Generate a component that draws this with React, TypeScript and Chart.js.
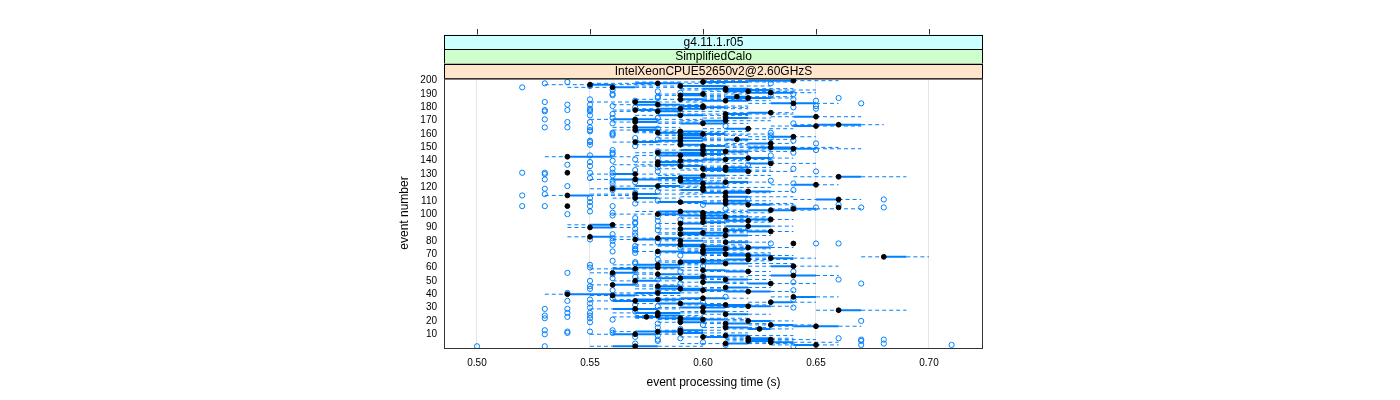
import React, { useEffect, useRef } from 'react';
import { Chart, registerables } from 'chart.js';

Chart.register(...registerables);

// ---------- data ----------
const xTickValues = [0.5, 0.55, 0.6, 0.65, 0.7];
const yTickValues = [10, 20, 30, 40, 50, 60, 70, 80, 90, 100, 110, 120, 130, 140, 150, 160, 170, 180, 190, 200];
const stripLabels = ['g4.11.1.r05', 'SimplifiedCalo', 'IntelXeonCPUE52650v2@2.60GHzS'];
const stripColors = ['#ccffff', '#ccffcc', '#ffe5cc'];

// event numbers 1..200 (category positions)
const eventNumbers = Array.from({ length: 200 }, (_, i) => i + 1);

const whiskerLow = [
  0.55, 0.63, 0.59, 0.62, 0.61, 0.61, 0.61, 0.59, 0.60, 0.55,
  0.58, 0.56, 0.58, 0.61, 0.60, 0.63, 0.62, 0.60, 0.58, 0.61,
  0.58, 0.57, 0.56, 0.57, 0.60, 0.56, 0.59, 0.65, 0.55, 0.58,
  0.60, 0.59, 0.57, 0.62, 0.55, 0.56, 0.58, 0.63, 0.55, 0.53,
  0.56, 0.60, 0.58, 0.57, 0.60, 0.57, 0.55, 0.61, 0.59, 0.56,
  0.60, 0.57, 0.58, 0.62, 0.57, 0.55, 0.60, 0.59, 0.55, 0.56,
  0.62, 0.56, 0.59, 0.58, 0.58, 0.60, 0.62, 0.67, 0.60, 0.60,
  0.58, 0.57, 0.59, 0.59, 0.61, 0.58, 0.57, 0.64, 0.60, 0.58,
  0.56, 0.57, 0.54, 0.59, 0.58, 0.58, 0.61, 0.60, 0.58, 0.54,
  0.60, 0.54, 0.58, 0.59, 0.60, 0.61, 0.59, 0.60, 0.58, 0.56,
  0.58, 0.57, 0.61, 0.63, 0.66, 0.54, 0.61, 0.59, 0.57, 0.60,
  0.64, 0.56, 0.59, 0.53, 0.55, 0.59, 0.60, 0.58, 0.55, 0.58,
  0.56, 0.63, 0.58, 0.59, 0.58, 0.55, 0.57, 0.64, 0.58, 0.55,
  0.54, 0.60, 0.59, 0.58, 0.60, 0.57, 0.56, 0.61, 0.57, 0.58,
  0.59, 0.60, 0.53, 0.57, 0.58, 0.57, 0.60, 0.58, 0.62, 0.61,
  0.59, 0.57, 0.61, 0.56, 0.57, 0.60, 0.58, 0.62, 0.58, 0.58,
  0.57, 0.57, 0.56, 0.60, 0.56, 0.63, 0.64, 0.58, 0.56, 0.59,
  0.55, 0.60, 0.63, 0.57, 0.59, 0.61, 0.56, 0.56, 0.57, 0.59,
  0.58, 0.56, 0.62, 0.55, 0.59, 0.57, 0.60, 0.60, 0.58, 0.58,
  0.61, 0.60, 0.59, 0.59, 0.54, 0.57, 0.53, 0.55, 0.57, 0.60,
];

const boxLow = [
  0.56, 0.64, 0.61, 0.63, 0.62, 0.62, 0.62, 0.60, 0.61, 0.56,
  0.59, 0.57, 0.59, 0.62, 0.61, 0.64, 0.63, 0.61, 0.59, 0.62,
  0.59, 0.58, 0.57, 0.58, 0.61, 0.57, 0.60, 0.66, 0.56, 0.59,
  0.61, 0.60, 0.58, 0.63, 0.56, 0.57, 0.59, 0.64, 0.56, 0.54,
  0.57, 0.61, 0.59, 0.58, 0.61, 0.58, 0.56, 0.62, 0.60, 0.57,
  0.61, 0.58, 0.59, 0.63, 0.58, 0.56, 0.61, 0.60, 0.56, 0.57,
  0.63, 0.57, 0.60, 0.59, 0.59, 0.61, 0.63, 0.68, 0.61, 0.61,
  0.59, 0.58, 0.60, 0.60, 0.62, 0.59, 0.58, 0.64, 0.61, 0.59,
  0.57, 0.58, 0.55, 0.60, 0.59, 0.59, 0.62, 0.61, 0.59, 0.55,
  0.61, 0.55, 0.59, 0.60, 0.61, 0.62, 0.60, 0.61, 0.59, 0.58,
  0.60, 0.58, 0.62, 0.64, 0.66, 0.54, 0.62, 0.60, 0.58, 0.61,
  0.65, 0.57, 0.61, 0.54, 0.57, 0.60, 0.61, 0.59, 0.56, 0.60,
  0.57, 0.64, 0.59, 0.61, 0.59, 0.56, 0.58, 0.66, 0.59, 0.56,
  0.54, 0.61, 0.60, 0.60, 0.61, 0.59, 0.58, 0.62, 0.58, 0.59,
  0.60, 0.61, 0.54, 0.58, 0.59, 0.58, 0.61, 0.59, 0.63, 0.62,
  0.60, 0.59, 0.62, 0.57, 0.58, 0.61, 0.59, 0.63, 0.59, 0.59,
  0.58, 0.59, 0.57, 0.61, 0.57, 0.64, 0.65, 0.59, 0.57, 0.60,
  0.56, 0.61, 0.64, 0.58, 0.61, 0.62, 0.58, 0.57, 0.58, 0.60,
  0.59, 0.57, 0.63, 0.57, 0.60, 0.59, 0.61, 0.61, 0.59, 0.59,
  0.62, 0.61, 0.61, 0.60, 0.56, 0.59, 0.55, 0.57, 0.60, 0.62,
];

const medians = [
  0.57, 0.65, 0.61, 0.63, 0.62, 0.63, 0.62, 0.60, 0.61, 0.57,
  0.59, 0.58, 0.59, 0.625, 0.61, 0.65, 0.63, 0.61, 0.59, 0.62,
  0.60, 0.59, 0.575, 0.58, 0.61, 0.58, 0.60, 0.66, 0.57, 0.60,
  0.62, 0.61, 0.59, 0.63, 0.57, 0.58, 0.60, 0.64, 0.56, 0.54,
  0.58, 0.62, 0.60, 0.59, 0.61, 0.58, 0.56, 0.63, 0.60, 0.57,
  0.61, 0.59, 0.60, 0.64, 0.58, 0.56, 0.62, 0.60, 0.57, 0.58,
  0.64, 0.58, 0.61, 0.59, 0.60, 0.62, 0.63, 0.68, 0.62, 0.61,
  0.60, 0.58, 0.60, 0.61, 0.62, 0.60, 0.59, 0.64, 0.61, 0.59,
  0.57, 0.58, 0.55, 0.61, 0.59, 0.60, 0.63, 0.61, 0.59, 0.55,
  0.62, 0.56, 0.59, 0.60, 0.62, 0.63, 0.60, 0.61, 0.60, 0.58,
  0.60, 0.59, 0.63, 0.64, 0.66, 0.54, 0.62, 0.61, 0.59, 0.61,
  0.66, 0.57, 0.61, 0.54, 0.57, 0.61, 0.62, 0.60, 0.56, 0.60,
  0.58, 0.65, 0.60, 0.61, 0.59, 0.57, 0.59, 0.66, 0.60, 0.57,
  0.54, 0.62, 0.61, 0.60, 0.61, 0.59, 0.58, 0.63, 0.58, 0.59,
  0.61, 0.62, 0.54, 0.59, 0.60, 0.58, 0.61, 0.60, 0.64, 0.63,
  0.60, 0.59, 0.63, 0.57, 0.59, 0.615, 0.59, 0.64, 0.59, 0.60,
  0.58, 0.59, 0.57, 0.62, 0.57, 0.65, 0.66, 0.60, 0.57, 0.61,
  0.57, 0.61, 0.65, 0.59, 0.61, 0.63, 0.58, 0.57, 0.59, 0.60,
  0.60, 0.58, 0.64, 0.57, 0.61, 0.59, 0.62, 0.615, 0.59, 0.60,
  0.63, 0.62, 0.61, 0.61, 0.56, 0.59, 0.55, 0.58, 0.60, 0.64,
];

const boxHigh = [
  0.58, 0.65, 0.62, 0.64, 0.63, 0.63, 0.63, 0.61, 0.62, 0.58,
  0.60, 0.59, 0.60, 0.63, 0.62, 0.66, 0.64, 0.62, 0.60, 0.63,
  0.61, 0.60, 0.58, 0.59, 0.62, 0.59, 0.61, 0.67, 0.58, 0.61,
  0.63, 0.62, 0.60, 0.64, 0.58, 0.59, 0.61, 0.65, 0.57, 0.56,
  0.59, 0.63, 0.61, 0.60, 0.62, 0.59, 0.57, 0.63, 0.61, 0.58,
  0.62, 0.60, 0.61, 0.65, 0.59, 0.57, 0.62, 0.61, 0.57, 0.59,
  0.64, 0.59, 0.62, 0.60, 0.61, 0.62, 0.64, 0.69, 0.63, 0.62,
  0.61, 0.59, 0.61, 0.62, 0.63, 0.61, 0.60, 0.64, 0.62, 0.60,
  0.58, 0.59, 0.56, 0.62, 0.60, 0.61, 0.63, 0.62, 0.60, 0.56,
  0.63, 0.56, 0.60, 0.61, 0.62, 0.63, 0.61, 0.62, 0.61, 0.59,
  0.61, 0.60, 0.64, 0.65, 0.66, 0.54, 0.63, 0.62, 0.60, 0.62,
  0.66, 0.58, 0.62, 0.55, 0.58, 0.62, 0.63, 0.60, 0.57, 0.61,
  0.59, 0.65, 0.61, 0.62, 0.60, 0.58, 0.60, 0.67, 0.61, 0.57,
  0.54, 0.62, 0.62, 0.61, 0.62, 0.60, 0.59, 0.63, 0.59, 0.60,
  0.61, 0.63, 0.56, 0.60, 0.61, 0.60, 0.62, 0.61, 0.65, 0.64,
  0.61, 0.60, 0.63, 0.58, 0.60, 0.62, 0.60, 0.64, 0.60, 0.61,
  0.59, 0.60, 0.58, 0.62, 0.58, 0.65, 0.67, 0.61, 0.58, 0.61,
  0.58, 0.62, 0.65, 0.60, 0.62, 0.63, 0.59, 0.58, 0.60, 0.61,
  0.60, 0.59, 0.65, 0.58, 0.62, 0.60, 0.63, 0.62, 0.60, 0.60,
  0.64, 0.62, 0.63, 0.62, 0.57, 0.61, 0.56, 0.59, 0.62, 0.64,
];

const whiskerHigh = [
  0.60, 0.66, 0.64, 0.66, 0.64, 0.65, 0.64, 0.62, 0.64, 0.59,
  0.62, 0.60, 0.61, 0.64, 0.63, 0.67, 0.65, 0.63, 0.61, 0.64,
  0.62, 0.62, 0.60, 0.60, 0.63, 0.60, 0.62, 0.69, 0.59, 0.62,
  0.64, 0.63, 0.61, 0.65, 0.59, 0.60, 0.62, 0.66, 0.59, 0.58,
  0.60, 0.64, 0.62, 0.61, 0.63, 0.60, 0.59, 0.65, 0.62, 0.59,
  0.63, 0.61, 0.62, 0.66, 0.60, 0.58, 0.63, 0.62, 0.59, 0.60,
  0.66, 0.60, 0.64, 0.61, 0.63, 0.64, 0.65, 0.70, 0.64, 0.63,
  0.63, 0.60, 0.62, 0.63, 0.64, 0.62, 0.62, 0.64, 0.63, 0.62,
  0.59, 0.61, 0.57, 0.63, 0.61, 0.62, 0.64, 0.63, 0.62, 0.57,
  0.64, 0.57, 0.61, 0.63, 0.63, 0.64, 0.63, 0.63, 0.62, 0.61,
  0.63, 0.62, 0.65, 0.67, 0.66, 0.54, 0.64, 0.64, 0.62, 0.63,
  0.67, 0.59, 0.64, 0.57, 0.60, 0.63, 0.64, 0.62, 0.58, 0.63,
  0.61, 0.66, 0.62, 0.63, 0.61, 0.60, 0.62, 0.69, 0.63, 0.59,
  0.54, 0.64, 0.63, 0.62, 0.63, 0.62, 0.60, 0.65, 0.61, 0.62,
  0.63, 0.64, 0.57, 0.61, 0.62, 0.62, 0.64, 0.63, 0.67, 0.66,
  0.63, 0.62, 0.64, 0.59, 0.62, 0.64, 0.61, 0.65, 0.62, 0.63,
  0.61, 0.62, 0.59, 0.64, 0.59, 0.67, 0.68, 0.62, 0.60, 0.63,
  0.60, 0.63, 0.67, 0.62, 0.64, 0.64, 0.61, 0.59, 0.62, 0.62,
  0.62, 0.60, 0.66, 0.60, 0.63, 0.62, 0.64, 0.64, 0.61, 0.62,
  0.65, 0.64, 0.65, 0.64, 0.59, 0.63, 0.58, 0.61, 0.64, 0.66,
];

const outliers: number[][] = [
  [0.50, 0.53, 0.64], [0.61, 0.67, 0.71], [0.57, 0.68], [0.60], [0.58, 0.67],
  [0.58, 0.67, 0.68], [0.59, 0.66], [0.57], [0.58], [0.53],
  [0.54, 0.56], [0.54, 0.55], [0.53, 0.56], [0.59], [0.58],
  [0.61], [0.60], [0.58], [0.55], [0.59, 0.67],
  [0.56], [0.53, 0.55], [0.54], [0.53, 0.55], [0.58],
  [0.54, 0.55], [0.57], [], [0.53, 0.54], [0.55, 0.64],
  [0.58], [0.57], [0.55], [0.60], [0.54],
  [0.55, 0.64], [0.56], [0.61], [], [],
  [0.54], [0.58], [0.56, 0.64], [0.55], [0.58],
  [0.55], [], [0.59, 0.67], [0.57, 0.64], [0.55],
  [0.58, 0.66], [0.56], [0.57], [0.60], [0.56],
  [0.54], [0.59, 0.64], [0.57], [], [0.55],
  [0.60], [0.55], [0.57], [0.57], [0.56],
  [0.58], [0.60], [], [0.59], [0.58],
  [0.57], [0.56], [0.57], [0.57], [0.59],
  [0.57], [0.56], [0.63, 0.65, 0.66], [0.58], [0.56],
  [0.55], [0.56], [], [0.57], [0.56],
  [0.57], [0.59], [0.58], [0.57], [],
  [0.58], [], [0.57], [0.57], [0.58],
  [0.59], [0.57], [0.58], [0.56], [0.54],
  [0.56], [0.55], [], [0.61], [0.64, 0.65, 0.67, 0.68],
  [0.52, 0.53, 0.55, 0.56], [0.60, 0.66], [0.57], [0.55], [0.58],
  [0.62, 0.68], [0.55], [0.57], [0.52], [0.53],
  [0.57], [0.58], [0.56, 0.64], [0.53], [0.56],
  [0.54], [0.61], [0.56, 0.64], [0.57], [0.56, 0.63],
  [0.53], [0.55], [], [0.56], [0.53],
  [0.52, 0.53, 0.55, 0.56], [0.58, 0.65], [0.57], [0.56, 0.64], [0.58],
  [0.55], [0.54, 0.62], [0.59], [0.55, 0.63], [0.56],
  [0.57], [0.58], [], [0.55, 0.63], [0.56],
  [0.56, 0.64], [0.58], [0.56, 0.65], [0.60], [],
  [0.57], [0.55], [0.59, 0.65], [0.55], [0.55, 0.64],
  [0.58], [0.57, 0.63], [0.60], [0.56, 0.63], [0.56],
  [0.56, 0.63], [0.55], [0.55], [0.58], [0.53, 0.54, 0.55],
  [0.61], [], [0.56, 0.64], [0.54, 0.55], [0.57],
  [0.53], [0.56, 0.58], [0.61], [0.55], [0.56],
  [0.59], [0.53, 0.55], [0.53, 0.54, 0.55], [0.55, 0.65], [0.57, 0.64],
  [0.56, 0.65], [0.54, 0.55], [0.67], [0.53], [0.57, 0.65],
  [0.55, 0.64], [0.58, 0.66], [0.58], [0.56, 0.63], [0.56, 0.64],
  [0.59], [0.58], [0.56], [], [0.52],
  [0.55], [], [0.53, 0.63], [0.54], [],
];

// ---------- layout constants ----------
const FONT = '"Liberation Sans", Arial, Helvetica, sans-serif';
const BLUE = '#0080ff';

type Pt = { x: number; y: number };
const GAP: Pt = { x: NaN, y: NaN };

export default function App() {
  const canvasRef = useRef<HTMLCanvasElement | null>(null);

  useEffect(() => {
    const canvas = canvasRef.current;
    if (!canvas) return;

    const whiskerPts: Pt[] = [];
    const boxPts: Pt[] = [];
    const medianPts: Pt[] = [];
    const outlierPts: Pt[] = [];
    eventNumbers.forEach((ev, i) => {
      whiskerPts.push({ x: whiskerLow[i], y: ev }, { x: boxLow[i], y: ev }, GAP);
      whiskerPts.push({ x: boxHigh[i], y: ev }, { x: whiskerHigh[i], y: ev }, GAP);
      boxPts.push({ x: boxLow[i], y: ev }, { x: boxHigh[i], y: ev }, GAP);
      medianPts.push({ x: medians[i], y: ev });
      outliers[i].forEach((v) => outlierPts.push({ x: v, y: ev }));
    });

    const latticePlugin = {
      id: 'latticeDecor',
      afterDraw(chart: any) {
        const { ctx, chartArea } = chart;
        const xs = chart.scales.x;
        const left = chartArea.left;
        const right = chartArea.right;
        const top = chartArea.top;
        const bottom = chartArea.bottom;
        ctx.save();
        // strips
        const stripH = 14.5;
        const stripTop = top - stripH * 3;
        for (let k = 0; k < 3; k++) {
          const y0 = stripTop + k * stripH;
          ctx.fillStyle = stripColors[k];
          ctx.fillRect(left, y0, right - left, stripH);
          ctx.strokeStyle = '#000';
          ctx.lineWidth = 1;
          ctx.strokeRect(left + 0.5, Math.round(y0) + 0.5, right - left - 1, stripH);
          ctx.fillStyle = '#000';
          ctx.font = `12px ${FONT}`;
          ctx.textAlign = 'center';
          ctx.textBaseline = 'middle';
          ctx.fillText(stripLabels[k], (left + right) / 2, y0 + stripH / 2 + 0.5);
        }
        // top ticks
        ctx.strokeStyle = '#333';
        ctx.lineWidth = 1;
        xTickValues.forEach((v) => {
          const px = Math.round(xs.getPixelForValue(v)) + 0.5;
          ctx.beginPath();
          ctx.moveTo(px, stripTop - 5.5);
          ctx.lineTo(px, stripTop);
          ctx.stroke();
        });
        // panel frame
        ctx.strokeStyle = '#333';
        ctx.strokeRect(left + 0.5, top + 0.5, right - left - 1, bottom - top);
        ctx.restore();
      },
    };

    const chart = new Chart(canvas, {
      type: 'scatter',
      data: {
        datasets: [
          {
            label: 'median',
            data: medianPts,
            showLine: false,
            pointRadius: 2.4,
            pointBackgroundColor: '#000',
            pointBorderColor: '#000',
            pointBorderWidth: 1,
          },
          {
            label: 'outliers',
            data: outlierPts,
            showLine: false,
            pointRadius: 2.6,
            pointBackgroundColor: 'rgba(0,0,0,0)',
            pointBorderColor: BLUE,
            pointBorderWidth: 1,
          },
          {
            label: 'box',
            data: boxPts,
            showLine: true,
            spanGaps: false,
            borderColor: BLUE,
            borderWidth: 2,
            pointRadius: 0,
            borderCapStyle: 'butt',
          },
          {
            label: 'whiskers',
            data: whiskerPts,
            showLine: true,
            spanGaps: false,
            borderColor: BLUE,
            borderWidth: 1,
            borderDash: [4, 3],
            pointRadius: 0,
          },
        ] as any,
      },
      options: {
        animation: false,
        responsive: false,
        events: [],
        layout: { padding: { left: 393, right: 417, top: 78, bottom: 6 } },
        plugins: {
          legend: { display: false },
          tooltip: { enabled: false },
        },
        scales: {
          x: {
            type: 'linear',
            position: 'bottom',
            min: 0.4854,
            max: 0.7239,
            afterBuildTicks: (axis: any) => {
              axis.ticks = xTickValues.map((v) => ({ value: v }));
            },
            afterFit: (axis: any) => {
              axis.height = 46;
            },
            ticks: {
              padding: 9,
              color: '#000',
              font: { family: FONT, size: 10 },
              callback: (v: any) => Number(v).toFixed(2),
              maxRotation: 0,
              autoSkip: false,
            },
            grid: { display: true, color: '#e6e6e6', lineWidth: 1, drawTicks: false },
            border: { display: false },
            title: {
              display: true,
              text: 'event processing time (s)',
              color: '#000',
              font: { family: FONT, size: 12 },
              padding: { top: 4, bottom: 4 },
            },
          },
          y: {
            type: 'linear',
            position: 'left',
            min: -0.3,
            max: 202,
            afterBuildTicks: (axis: any) => {
              axis.ticks = yTickValues.map((v) => ({ value: v }));
            },
            afterFit: (axis: any) => {
              axis.width = 51;
            },
            ticks: {
              padding: 7,
              color: '#000',
              font: { family: FONT, size: 10 },
              autoSkip: false,
            },
            grid: { display: false, drawTicks: false },
            border: { display: false },
            title: {
              display: true,
              text: 'event number',
              color: '#000',
              font: { family: FONT, size: 12 },
              padding: { top: 4, bottom: 4 },
            },
          },
        },
      } as any,
      plugins: [latticePlugin],
    });

    return () => {
      chart.destroy();
    };
  }, []);

  return (
    <div style={{ position: 'fixed', left: 0, top: 0, width: 1400, height: 400, background: '#fff' }}>
      <canvas ref={canvasRef} width={1400} height={400} />
    </div>
  );
}
